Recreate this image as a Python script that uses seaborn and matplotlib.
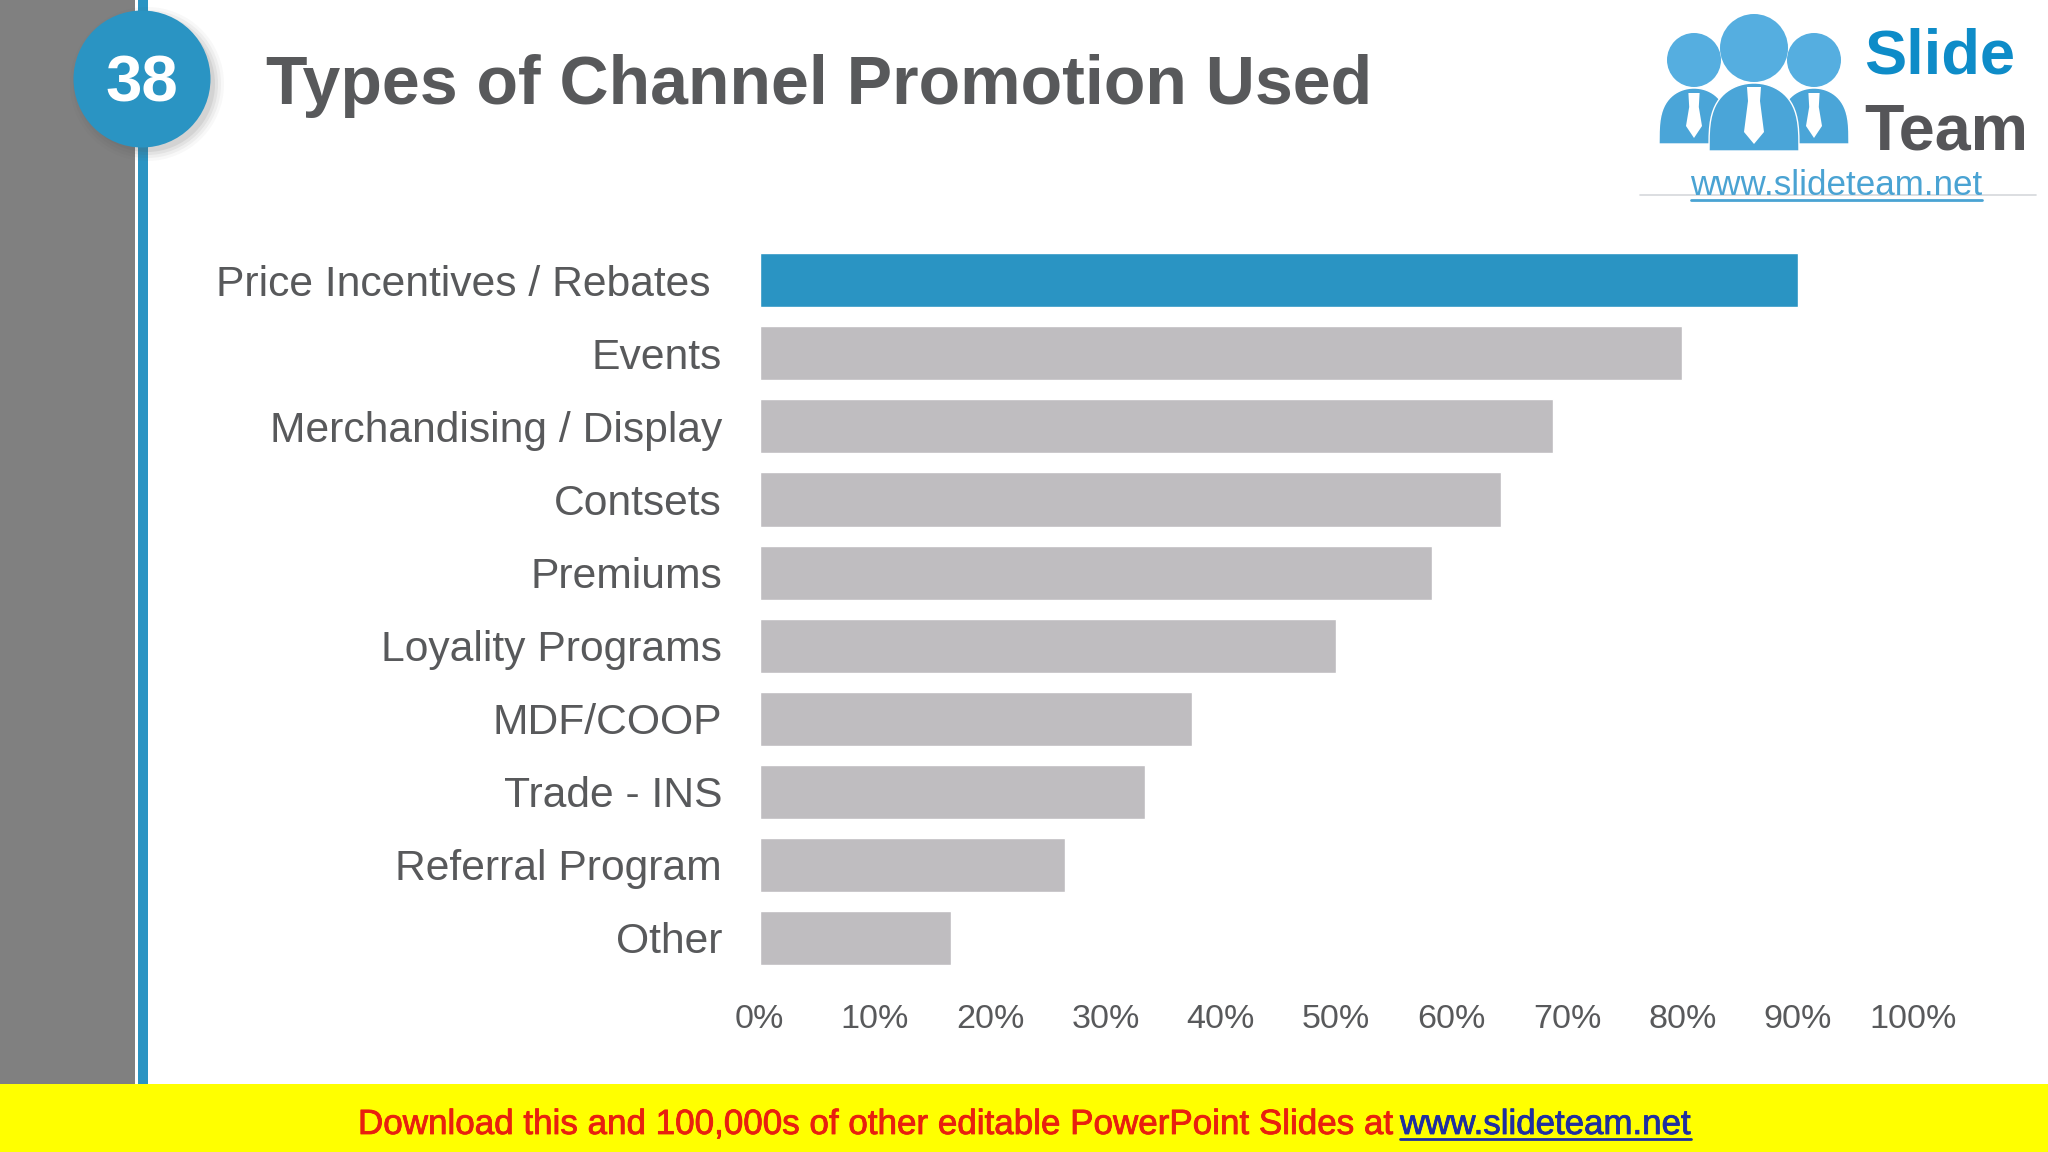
import numpy as np
import pandas as pd
import matplotlib
matplotlib.use('Agg')
import matplotlib.pyplot as plt
import matplotlib.patheffects as pe
from matplotlib.patches import Circle, Polygon, Rectangle
import seaborn as sns

# chart data
categories = ['Price Incentives / Rebates ', 'Events', 'Merchandising / Display', 'Contsets', 'Premiums',
              'Loyality Programs', 'MDF/COOP', 'Trade - INS', 'Referral Program', 'Other']
values = [90, 80, 68.75, 64.3, 58.3, 50, 37.5, 33.4, 26.5, 16.6]
x_ticks = [0, 10, 20, 30, 40, 50, 60, 70, 80, 90, 100]
x_tick_labels = ['0%', '10%', '20%', '30%', '40%', '50%', '60%', '70%', '80%', '90%', '100%']

BLUE = '#2A94C3'
BAR_GREY = '#BFBDC0'
TEXT_GREY = '#58595B'

sns.set_theme(style='white')
plt.rcParams['font.family'] = ['Liberation Sans', 'DejaVu Sans']

W, H = 2048, 1152
fig = plt.figure(figsize=(W / 100, H / 100), dpi=100, facecolor='white')

# ---- slide furniture, drawn in pixel coordinates
bg = fig.add_axes([0, 0, 1, 1], zorder=0)
bg.set_xlim(0, W)
bg.set_ylim(H, 0)
bg.axis('off')
bg.add_patch(Rectangle((0, 0), 135, 1084, color='#808080', lw=0))
bg.add_patch(Rectangle((138, 0), 10, 1084, color=BLUE, lw=0))
bg.add_patch(Rectangle((0, 1084), W, 68, color='#FFFF00', lw=0))

# number badge with soft shadow
for grow, alpha in [(9, 0.04), (6, 0.06), (3, 0.08), (0, 0.10)]:
    bg.add_patch(Circle((147, 84), 68 + grow, color='#555555', alpha=alpha, lw=0))
bg.add_patch(Circle((142, 79), 68.5, color=BLUE, lw=0))
bg.text(142, 85, '38', color='white', fontsize=47, fontweight='bold', ha='center', va='center')
bg.text(266, 86, 'Types of Channel Promotion Used', color=TEXT_GREY, fontsize=49,
        fontweight='bold', ha='left', va='center')


# logo
def body(cx, top, bottom, half):
    t = np.linspace(np.pi, 0, 40)
    pts = np.column_stack([cx + half * np.cos(t), bottom - (bottom - top) * np.sin(t) ** 0.6])
    bg.add_patch(Polygon(pts, closed=True, facecolor='#4AA5D8', edgecolor='white', lw=1))


def tie(cx, top, bottom, half):
    pts = [(cx - half * 0.7, top), (cx + half * 0.7, top), (cx + half * 0.6, top + 14),
           (cx + half, bottom - 12), (cx, bottom), (cx - half, bottom - 12), (cx - half * 0.6, top + 14)]
    bg.add_patch(Polygon(pts, closed=True, color='white', lw=0))


body(1694, 88, 144, 35)
body(1814, 88, 144, 35)
tie(1694, 93, 138, 8)
tie(1814, 93, 138, 8)
bg.add_patch(Circle((1694, 60), 27, color='#55AEE0', lw=0))
bg.add_patch(Circle((1814, 60), 27, color='#55AEE0', lw=0))
body(1754, 83, 151, 45)
tie(1754, 87, 144, 10)
bg.add_patch(Circle((1754, 48), 34, color='#55AEE0', lw=0))
bg.text(1864, 74, 'Slide', color='#0E8CC8', fontsize=45.5, fontweight='bold', ha='left', va='baseline')
bg.text(1864, 150, 'Team', color='#555558', fontsize=46.5, fontweight='bold', ha='left', va='baseline')
bg.plot([1640, 2036], [195, 195], color='#D5D8DC', lw=1.2)
bg.text(1836, 195, 'www.slideteam.net', color='#4AA3D3', fontsize=25.2, ha='center', va='baseline')
bg.plot([1691, 1982], [200, 200], color='#4AA3D3', lw=2)

# footer
stroke_red = [pe.withStroke(linewidth=0.6, foreground='#E8200F')]
stroke_blue = [pe.withStroke(linewidth=0.6, foreground='#1F2FA0')]
bg.text(358, 1134, 'Download this and 100,000s of other editable PowerPoint Slides at ', color='#E8200F',
        fontsize=25.2, ha='left', va='baseline', path_effects=stroke_red)
bg.text(1400, 1134, 'www.slideteam.net', color='#1F2FA0', fontsize=25.1, ha='left', va='baseline',
        path_effects=stroke_blue)
bg.plot([1400, 1691], [1139, 1139], color='#1F2FA0', lw=2)

# ---- bar chart
df = pd.DataFrame({'category': categories, 'value': values})
ax = fig.add_axes([759.5 / W, 1 - 974.4 / H, 1153.5 / W, (974.4 - 243.8) / H], zorder=1)
ax.patch.set_alpha(0)
palette = [BLUE] + [BAR_GREY] * (len(categories) - 1)
sns.barplot(data=df, x='value', y='category', hue='category', palette=palette, legend=False,
            width=0.74, saturation=1, ax=ax)
ax.set_xlim(0, 100)
ax.set_ylim(len(categories) - 0.5, -0.5)
ax.set_xlabel('')
ax.set_ylabel('')
ax.set_xticks(x_ticks)
ax.set_xticklabels(x_tick_labels)
ax.tick_params(axis='x', length=0, pad=21, labelsize=24.6, labelcolor=TEXT_GREY)
ax.tick_params(axis='y', length=0, pad=27, labelsize=30.7, labelcolor=TEXT_GREY)
sns.despine(ax=ax, left=True, bottom=True)

fig.savefig('out.png', dpi=100)
